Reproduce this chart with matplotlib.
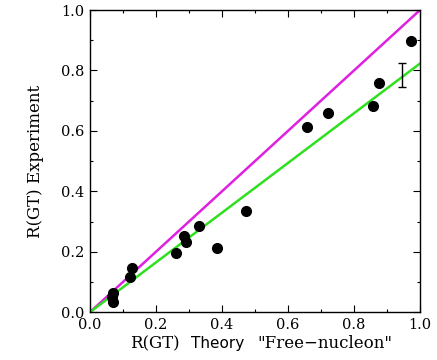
import numpy as np
import matplotlib.pyplot as plt
from matplotlib.ticker import MultipleLocator

# data
theory = [0.973, 0.877, 0.857, 0.722, 0.658, 0.472, 0.384, 0.330, 0.285, 0.290,
          0.262, 0.126, 0.121, 0.071, 0.066, 0.071]
experiment = [0.897, 0.760, 0.684, 0.660, 0.613, 0.335, 0.213, 0.285, 0.253, 0.231,
              0.196, 0.145, 0.117, 0.062, 0.051, 0.033]
quench = 0.823        # slope of the green line
err_x, err_y, err_half = 0.946, 0.785, 0.04

fig = plt.figure(figsize=(4.37, 3.6), dpi=100)
ax = fig.add_axes([0.206, 0.133, 0.755, 0.839])

xs = np.array([0.0, 1.0])
ax.plot(xs, xs, color='#e020e0', lw=1.8, zorder=2)
ax.plot(xs, quench * xs, color='#30e020', lw=1.8, zorder=2)
ax.plot(theory, experiment, 'o', color='black', ms=7, zorder=3)
ax.errorbar([err_x], [err_y], yerr=[err_half], fmt='none', ecolor='black',
            elinewidth=1, capsize=3, capthick=1)

ax.set_xlim(0, 1)
ax.set_ylim(0, 1)
ax.xaxis.set_major_locator(MultipleLocator(0.2))
ax.yaxis.set_major_locator(MultipleLocator(0.2))
ax.xaxis.set_minor_locator(MultipleLocator(0.1))
ax.yaxis.set_minor_locator(MultipleLocator(0.1))
ax.tick_params(which='both', direction='in', top=True, right=True, width=0.8)
ax.tick_params(which='major', length=5, labelsize=10.5, pad=4)
ax.tick_params(which='minor', length=2.5)
ax.xaxis.set_major_formatter(plt.FormatStrFormatter('%.1f'))
ax.yaxis.set_major_formatter(plt.FormatStrFormatter('%.1f'))
for lab in ax.get_xticklabels() + ax.get_yticklabels():
    lab.set_family('DejaVu Serif')
for s in ax.spines.values():
    s.set_linewidth(1.0)

ax.set_ylabel('R(GT) Experiment', family='DejaVu Serif', fontsize=12, labelpad=12)

# x label built from pieces in different fonts
fig.text(0.298, 0.032, 'R(GT)', family='DejaVu Serif', fontsize=12)
fig.text(0.437, 0.034, 'Theory', family='DejaVu Sans', fontsize=11)
fig.text(0.588, 0.032, '"Free\u2212nucleon"', family='DejaVu Serif', fontsize=12)

fig.savefig('out.png', dpi=100)
